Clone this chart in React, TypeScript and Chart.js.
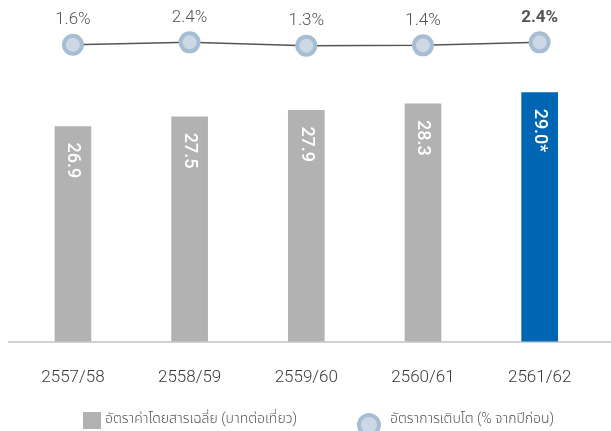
import React, { useEffect, useRef } from 'react';
import { Chart, registerables } from 'chart.js';

Chart.register(...registerables);

const categories = ['2557/58', '2558/59', '2559/60', '2560/61', '2561/62'];
const fareValues = [26.9, 27.5, 27.9, 28.3, 29.0];
const fareLabels = ['26.9', '27.5', '27.9', '28.3', '29.0*'];
const growthValues = [1.6, 2.4, 1.3, 1.4, 2.4];
const growthLabels = ['1.6%', '2.4%', '1.3%', '1.4%', '2.4%'];
const legendLabels = ['อัตราค่าโดยสารเฉลี่ย (บาทต่อเที่ยว)', 'อัตราการเติบโต (% จากปีก่อน)'];

const barColors = ['#b2b2b2', '#b2b2b2', '#b2b2b2', '#b2b2b2', '#0066b3'];
const pointFill = '#cdd8e6';
const pointBorder = '#a6bdd4';
const baseFont = "Roboto, 'Noto Sans', 'Noto Sans Thai', sans-serif";

const labelPlugin = {
  id: 'customLabels',
  beforeDatasetsDraw(chart: any) {
    const { ctx, chartArea } = chart;
    ctx.save();
    ctx.strokeStyle = '#d2d2d2';
    ctx.lineWidth = 2;
    ctx.beginPath();
    ctx.moveTo(8, chartArea.bottom + 0.5);
    ctx.lineTo(chart.width, chartArea.bottom + 0.5);
    ctx.stroke();
    ctx.restore();
  },
  afterDatasetsDraw(chart: any) {
    const { ctx } = chart;
    const barMeta = chart.getDatasetMeta(0);
    const lineMeta = chart.getDatasetMeta(1);
    ctx.save();
    barMeta.data.forEach((bar: any, i: number) => {
      ctx.save();
      ctx.translate(bar.x, bar.y + 16);
      ctx.rotate(Math.PI / 2);
      ctx.fillStyle = '#ffffff';
      ctx.font = `500 18px ${baseFont}`;
      ctx.textAlign = 'left';
      ctx.textBaseline = 'middle';
      ctx.fillText(fareLabels[i], 0, 0);
      ctx.restore();
    });
    lineMeta.data.forEach((pt: any, i: number) => {
      const last = i === growthLabels.length - 1;
      ctx.fillStyle = '#555555';
      ctx.font = `${last ? 700 : 300} 17px ${baseFont}`;
      ctx.textAlign = 'center';
      ctx.textBaseline = 'middle';
      ctx.fillText(growthLabels[i], pt.x, pt.y - 25);
    });
    ctx.restore();
  },
  afterDraw(chart: any) {
    const { ctx } = chart;
    ctx.save();
    ctx.font = `300 14px ${baseFont}`;
    ctx.textBaseline = 'middle';
    ctx.textAlign = 'left';
    ctx.fillStyle = barColors[0];
    ctx.fillRect(83, 412, 18, 17);
    ctx.fillStyle = '#555555';
    ctx.fillText(legendLabels[0], 105, 419);
    ctx.beginPath();
    ctx.arc(369, 425, 10, 0, Math.PI * 2);
    ctx.fillStyle = pointFill;
    ctx.fill();
    ctx.lineWidth = 4;
    ctx.strokeStyle = pointBorder;
    ctx.stroke();
    ctx.fillStyle = '#555555';
    ctx.fillText(legendLabels[1], 390, 419);
    ctx.restore();
  },
};

export default function App() {
  const canvasRef = useRef<HTMLCanvasElement | null>(null);

  useEffect(() => {
    if (!canvasRef.current) return;
    const chart = new Chart(canvasRef.current, {
      type: 'bar',
      data: {
        labels: categories,
        datasets: [
          {
            type: 'bar',
            label: legendLabels[0],
            data: fareValues,
            backgroundColor: barColors,
            borderWidth: 0,
            barThickness: 36,
            yAxisID: 'y',
            order: 2,
          },
          {
            type: 'line',
            label: legendLabels[1],
            data: growthValues,
            borderColor: '#555555',
            borderWidth: 1.5,
            backgroundColor: pointFill,
            pointBackgroundColor: pointFill,
            pointBorderColor: pointBorder,
            pointBorderWidth: 4,
            pointRadius: 9,
            tension: 0,
            yAxisID: 'y2',
            order: 1,
          } as any,
        ],
      },
      options: {
        animation: false,
        responsive: false,
        maintainAspectRatio: false,
        layout: { padding: { top: 10, left: 14.6, right: 12.6, bottom: 17 } },
        plugins: {
          legend: { display: false },
          tooltip: { enabled: false },
        },
        scales: {
          x: {
            grid: { display: false, drawTicks: false },
            border: { display: false },
            ticks: {
              padding: 26,
              color: '#3a3a3a',
              font: { family: baseFont, size: 17, weight: 300 as any },
            },
          },
          y: {
            display: false,
            min: 13.56,
            max: 33.94,
          },
          y2: {
            display: false,
            position: 'right',
            min: -97.77,
            max: 12.23,
          },
        },
      },
      plugins: [labelPlugin],
    });
    return () => chart.destroy();
  }, []);

  return (
    <div style={{ position: 'absolute', left: 0, top: 0, width: 611, height: 431, overflow: 'hidden', background: '#fff' }}>
      <canvas ref={canvasRef} width={611} height={431} style={{ width: 611, height: 431 }} />
    </div>
  );
}
